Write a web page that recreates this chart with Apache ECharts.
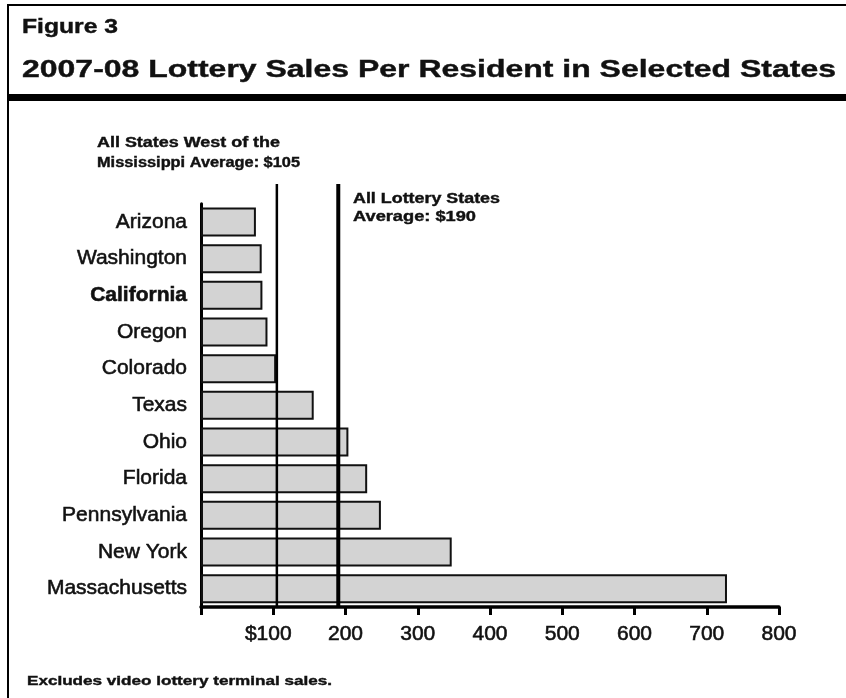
<!DOCTYPE html>
<html>
<head>
<meta charset="utf-8">
<script src="https://cdn.jsdelivr.net/npm/echarts@6/dist/echarts.min.js"></script>
<style>
  html, body { margin: 0; padding: 0; background: #fff; }
  #chart { width: 846px; height: 698px; }
</style>
</head>
<body>
<div id="chart"></div>
<script>
// ---- Data ----
const categories = ['Arizona', 'Washington', 'California', 'Oregon', 'Colorado', 'Texas', 'Ohio', 'Florida', 'Pennsylvania', 'New York', 'Massachusetts'];
const salesPerResident = [76, 84, 85, 92, 104, 156, 204, 230, 249, 347, 728];
const westAverage = 105;
const allStatesAverage = 190;
const tickValues = [0, 100, 200, 300, 400, 500, 600, 700, 800];
const tickLabels = ['', '$100', '200', '300', '400', '500', '600', '700', '800'];

const FONT = "'Liberation Sans', Arial, Helvetica, sans-serif";
const measureCtx = document.createElement('canvas').getContext('2d');
function fitScale(text, size, weight, targetWidth) {
  measureCtx.font = weight + ' ' + size + 'px ' + FONT;
  return targetWidth / measureCtx.measureText(text).width;
}
function stretchedText(text, x, y, size, targetWidth) {
  return {
    type: 'text', x: x, y: y, z: 20,
    scaleX: fitScale(text, size, 'bold', targetWidth),
    style: { text: text, fontSize: size, fontWeight: 'bold', fontFamily: FONT, fill: '#111', stroke: '#111', lineWidth: 0.4, verticalAlign: 'middle', align: 'left' }
  };
}

const chart = echarts.init(document.getElementById('chart'), null, { renderer: 'canvas' });

const labelHeavy = { textBorderColor: '#1a1a1a', textBorderWidth: 0.6 };

const option = {
  backgroundColor: '#fff',
  animation: false,
  grid: [
    { left: 201, right: 67, top: 203.7, bottom: 91, containLabel: false },
    { left: 201, right: 67, top: 184, bottom: 91, containLabel: false }
  ],
  xAxis: [
    {
      type: 'value', gridIndex: 0, min: 0, max: 800, interval: 100,
      splitLine: { show: false },
      axisLine: { show: true, lineStyle: { color: '#000', width: 3.5 } },
      axisTick: { show: true, length: 8, lineStyle: { color: '#000', width: 3 } },
      axisLabel: Object.assign({
        show: true, margin: 17, fontSize: 21, fontFamily: FONT, color: '#111',
        formatter: function (v) {
          const i = tickValues.indexOf(v);
          const t = i >= 0 ? tickLabels[i] : '';
          if (t.indexOf('$') === 0) return '{d|' + t + '}';
          return t;
        },
        rich: { d: Object.assign({ fontSize: 21, fontFamily: FONT, color: '#111', padding: [0, 10, 0, 0] }, labelHeavy) }
      }, labelHeavy)
    },
    { type: 'value', gridIndex: 1, min: 0, max: 800, show: false }
  ],
  yAxis: [
    {
      type: 'category', gridIndex: 0, data: categories, inverse: true,
      axisLine: { show: true, lineStyle: { color: '#000', width: 3 } },
      axisTick: { show: false },
      splitLine: { show: false },
      axisLabel: Object.assign({
        margin: 14, fontSize: 21, fontFamily: FONT, color: '#111',
        formatter: function (v) { return v === 'California' ? '{b|' + v + '}' : v; },
        rich: { b: { fontSize: 21, fontFamily: FONT, fontWeight: 'bold', color: '#111' } }
      }, labelHeavy)
    },
    { type: 'value', gridIndex: 1, min: 0, max: 1, show: false }
  ],
  series: [
    {
      type: 'bar', xAxisIndex: 0, yAxisIndex: 0, z: 2,
      data: salesPerResident,
      barWidth: 29,
      itemStyle: { color: '#d3d3d3', borderColor: '#111', borderWidth: 2 },
      silent: true
    },
    {
      type: 'line', xAxisIndex: 1, yAxisIndex: 1, z: 5,
      data: [[westAverage, 0], [westAverage, 1]],
      showSymbol: false, symbol: 'none',
      lineStyle: { color: '#000', width: 2.5 },
      silent: true
    },
    {
      type: 'line', xAxisIndex: 1, yAxisIndex: 1, z: 5,
      data: [[allStatesAverage, 0], [allStatesAverage, 1]],
      showSymbol: false, symbol: 'none',
      lineStyle: { color: '#000', width: 4 },
      silent: true
    }
  ],
  graphic: [
    // frame
    { type: 'rect', z: 10, shape: { x: 7, y: 4, width: 839, height: 2 }, style: { fill: '#000' } },
    { type: 'rect', z: 10, shape: { x: 7, y: 4, width: 2, height: 694 }, style: { fill: '#000' } },
    { type: 'rect', z: 10, shape: { x: 7, y: 94, width: 839, height: 7 }, style: { fill: '#000' } },
    // titles
    stretchedText('Figure 3', 22, 27, 20, 96),
    stretchedText('2007-08 Lottery Sales Per Resident in Selected States', 22, 70.5, 24, 814),
    // annotations
    stretchedText('All States West of the', 97, 143, 14, 183),
    stretchedText('Mississippi Average: $105', 97, 163, 14, 203),
    stretchedText('All Lottery States', 353, 199, 14, 147),
    stretchedText('Average: $190', 353, 217, 14, 123),
    // footnote
    stretchedText('Excludes video lottery terminal sales.', 27, 681.5, 13, 305)
  ]
};

chart.setOption(option);
</script>
</body>
</html>
